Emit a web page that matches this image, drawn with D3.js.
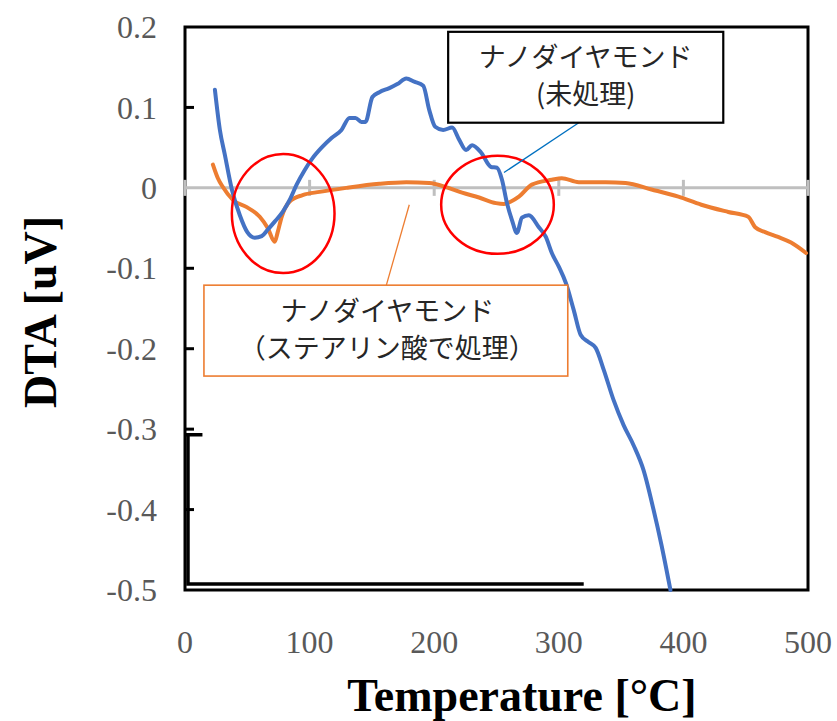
<!DOCTYPE html>
<html>
<head>
<meta charset="utf-8">
<script src="https://cdn.jsdelivr.net/npm/d3@7"></script>
<style>
  body { margin: 0; background: #fff; }
  .tick-label { font-family: "Liberation Serif", serif; font-size: 32px; fill: #595959; }
  .axis-title { font-family: "Liberation Serif", serif; font-size: 46px; font-weight: bold; fill: #000; }
  .note { font-family: "Noto Sans CJK JP", sans-serif; font-size: 27px; fill: #262626; }
</style>
</head>
<body>
<svg width="837" height="721"></svg>
<script>
// temperature [°C] / DTA [uV]
const rawT = [24, 28, 32, 37.6, 44, 50, 56, 61.6, 66.4, 72, 78.4, 84, 89.6, 96, 102.4, 109.6, 117.6, 125.6, 132, 136.8, 141.6, 144.8, 150.4, 156, 164, 170.4, 177.6, 184, 191.2, 196, 200.8, 207.2, 214.4, 220, 225.6, 230.4, 237.6, 245.6, 250.4, 254.4, 258.4, 262.4, 266.4, 270.4, 276, 284, 289.6, 294.4, 300, 305.6, 312, 317.6, 324, 329.6, 336, 344, 352, 360, 368, 376, 382.4, 389.6];
const rawV = [0.122, 0.072, 0.041, -0.002, -0.034, -0.055, -0.062, -0.060, -0.052, -0.042, -0.030, -0.015, 0.004, 0.022, 0.037, 0.050, 0.062, 0.072, 0.087, 0.087, 0.082, 0.082, 0.113, 0.119, 0.124, 0.129, 0.136, 0.132, 0.127, 0.097, 0.076, 0.072, 0.075, 0.060, 0.047, 0.053, 0.044, 0.026, 0.025, 0.010, -0.019, -0.040, -0.056, -0.037, -0.034, -0.049, -0.061, -0.081, -0.098, -0.118, -0.152, -0.183, -0.192, -0.199, -0.226, -0.264, -0.295, -0.320, -0.351, -0.400, -0.444, -0.500];

const stT = [22.4, 26.4, 30.4, 38.4, 49.6, 60, 66.4, 72, 74.4, 77.6, 84, 94.4, 108, 129.6, 156, 177.6, 196, 209.6, 222.4, 236, 249.6, 256, 261.6, 268, 278.4, 294.4, 302.4, 316, 337.6, 353.6, 374.4, 396, 414.4, 436, 452, 457.6, 465.6, 476, 486.4, 498.4];
const stV = [0.029, 0.012, 0.001, -0.015, -0.024, -0.036, -0.050, -0.067, -0.055, -0.036, -0.017, -0.009, -0.005, 0, 0.005, 0.007, 0.006, 0.001, -0.006, -0.012, -0.019, -0.020, -0.017, -0.011, 0.004, 0.010, 0.012, 0.007, 0.007, 0.006, -0.002, -0.011, -0.021, -0.030, -0.036, -0.049, -0.055, -0.061, -0.068, -0.081];

const xTicks = [0, 100, 200, 300, 400, 500];
const yTicks = [0.2, 0.1, 0, -0.1, -0.2, -0.3, -0.4, -0.5];

const rawLabel = ["ナノダイヤモンド", "(未処理)"];
const stLabel = ["ナノダイヤモンド", "（ステアリン酸で処理）"];

const svg = d3.select("svg");
const x = d3.scaleLinear().domain([0, 500]).range([185, 808]);
const y = d3.scaleLinear().domain([-0.5, 0.2]).range([590, 27]);

const line = d3.line().curve(d3.curveMonotoneX).x(d => x(d[0])).y(d => y(d[1]));

// frame
svg.append("rect")
  .attr("x", x(0)).attr("y", y(0.2))
  .attr("width", x(500) - x(0)).attr("height", y(-0.5) - y(0.2))
  .attr("fill", "none").attr("stroke", "#000").attr("stroke-width", 3);

// inner y ticks
svg.append("g").selectAll("line")
  .data(yTicks.filter(v => v !== 0 && v !== 0.2 && v !== -0.5))
  .join("line")
  .attr("x1", x(0)).attr("x2", x(0) + 9)
  .attr("y1", d => y(d)).attr("y2", d => y(d))
  .attr("stroke", "#000").attr("stroke-width", 3);

// stray L-shaped axis at the lower left
svg.append("path")
  .attr("d", `M${x(0)},${y(-0.307)}H${x(14)}M${x(2.4)},${y(-0.307)}V${y(-0.4925)}H${x(320)}`)
  .attr("fill", "none").attr("stroke", "#000").attr("stroke-width", 3.5);

// zero line with ticks
svg.append("line")
  .attr("x1", x(0)).attr("x2", x(500))
  .attr("y1", y(0)).attr("y2", y(0))
  .attr("stroke", "#bfbfbf").attr("stroke-width", 3);
svg.append("g").selectAll("line")
  .data(xTicks)
  .join("line")
  .attr("x1", d => x(d)).attr("x2", d => x(d))
  .attr("y1", y(0) - 8).attr("y2", y(0) + 8)
  .attr("stroke", "#bfbfbf").attr("stroke-width", 3);

// tick labels
svg.append("g").selectAll("text")
  .data(yTicks)
  .join("text")
  .attr("class", "tick-label")
  .attr("x", 157).attr("y", d => y(d))
  .attr("dy", "0.35em")
  .attr("text-anchor", "end")
  .text(d => d3.format("")(d).replace("−", "-"));

svg.append("g").selectAll("text")
  .data(xTicks)
  .join("text")
  .attr("class", "tick-label")
  .attr("x", d => x(d)).attr("y", 653)
  .attr("text-anchor", "middle")
  .text(d => d);

// axis titles
svg.append("text")
  .attr("class", "axis-title")
  .attr("transform", "translate(56,312) rotate(-90)")
  .attr("text-anchor", "middle")
  .text("DTA [uV]");
svg.append("text")
  .attr("class", "axis-title")
  .attr("x", 522).attr("y", 711)
  .attr("text-anchor", "middle")
  .text("Temperature [°C]");

// curves
svg.append("path")
  .datum(d3.zip(stT, stV))
  .attr("d", line)
  .attr("fill", "none").attr("stroke", "#ed7d31").attr("stroke-width", 4)
  .attr("stroke-linejoin", "round").attr("stroke-linecap", "round");
svg.append("path")
  .datum(d3.zip(rawT, rawV))
  .attr("d", line)
  .attr("fill", "none").attr("stroke", "#4472c4").attr("stroke-width", 4)
  .attr("stroke-linejoin", "round").attr("stroke-linecap", "round");

// red circles around the peaks
const rings = [[78.8, -0.032, 41.2, 0.074], [250.8, -0.021, 45.2, 0.061]];
svg.append("g").selectAll("ellipse")
  .data(rings)
  .join("ellipse")
  .attr("cx", d => x(d[0])).attr("cy", d => y(d[1]))
  .attr("rx", d => x(d[2]) - x(0)).attr("ry", d => y(0) - y(d[3]))
  .attr("fill", "none").attr("stroke", "#ff0000").attr("stroke-width", 2.5);

// callouts
function callout(box, from, to, lineColor, boxColor, width, lines, cx, rows) {
  svg.append("line")
    .attr("x1", x(from[0])).attr("y1", y(from[1]))
    .attr("x2", x(to[0])).attr("y2", y(to[1]))
    .attr("stroke", lineColor).attr("stroke-width", 1.3);
  svg.append("rect")
    .attr("x", x(box[0])).attr("y", y(box[3]))
    .attr("width", x(box[1]) - x(box[0])).attr("height", y(box[2]) - y(box[3]))
    .attr("fill", "#fff").attr("stroke", boxColor).attr("stroke-width", width);
  svg.append("g").selectAll("text")
    .data(lines)
    .join("text")
    .attr("class", "note")
    .attr("x", x(cx)).attr("y", (d, i) => y(rows[i]))
    .attr("dy", "0.36em")
    .attr("text-anchor", "middle")
    .text(d => d);
}
callout([211.2, 432, 0.081, 0.194], [316, 0.081], [256, 0.019], "#0070c0", "#000", 2.2, rawLabel, 321.6, [0.162, 0.116]);
callout([15.2, 307.2, -0.234, -0.121], [161.6, -0.121], [180, -0.021], "#ed7d31", "#ed7d31", 1.6, stLabel, 162.4, [-0.154, -0.199]);
</script>
</body>
</html>
